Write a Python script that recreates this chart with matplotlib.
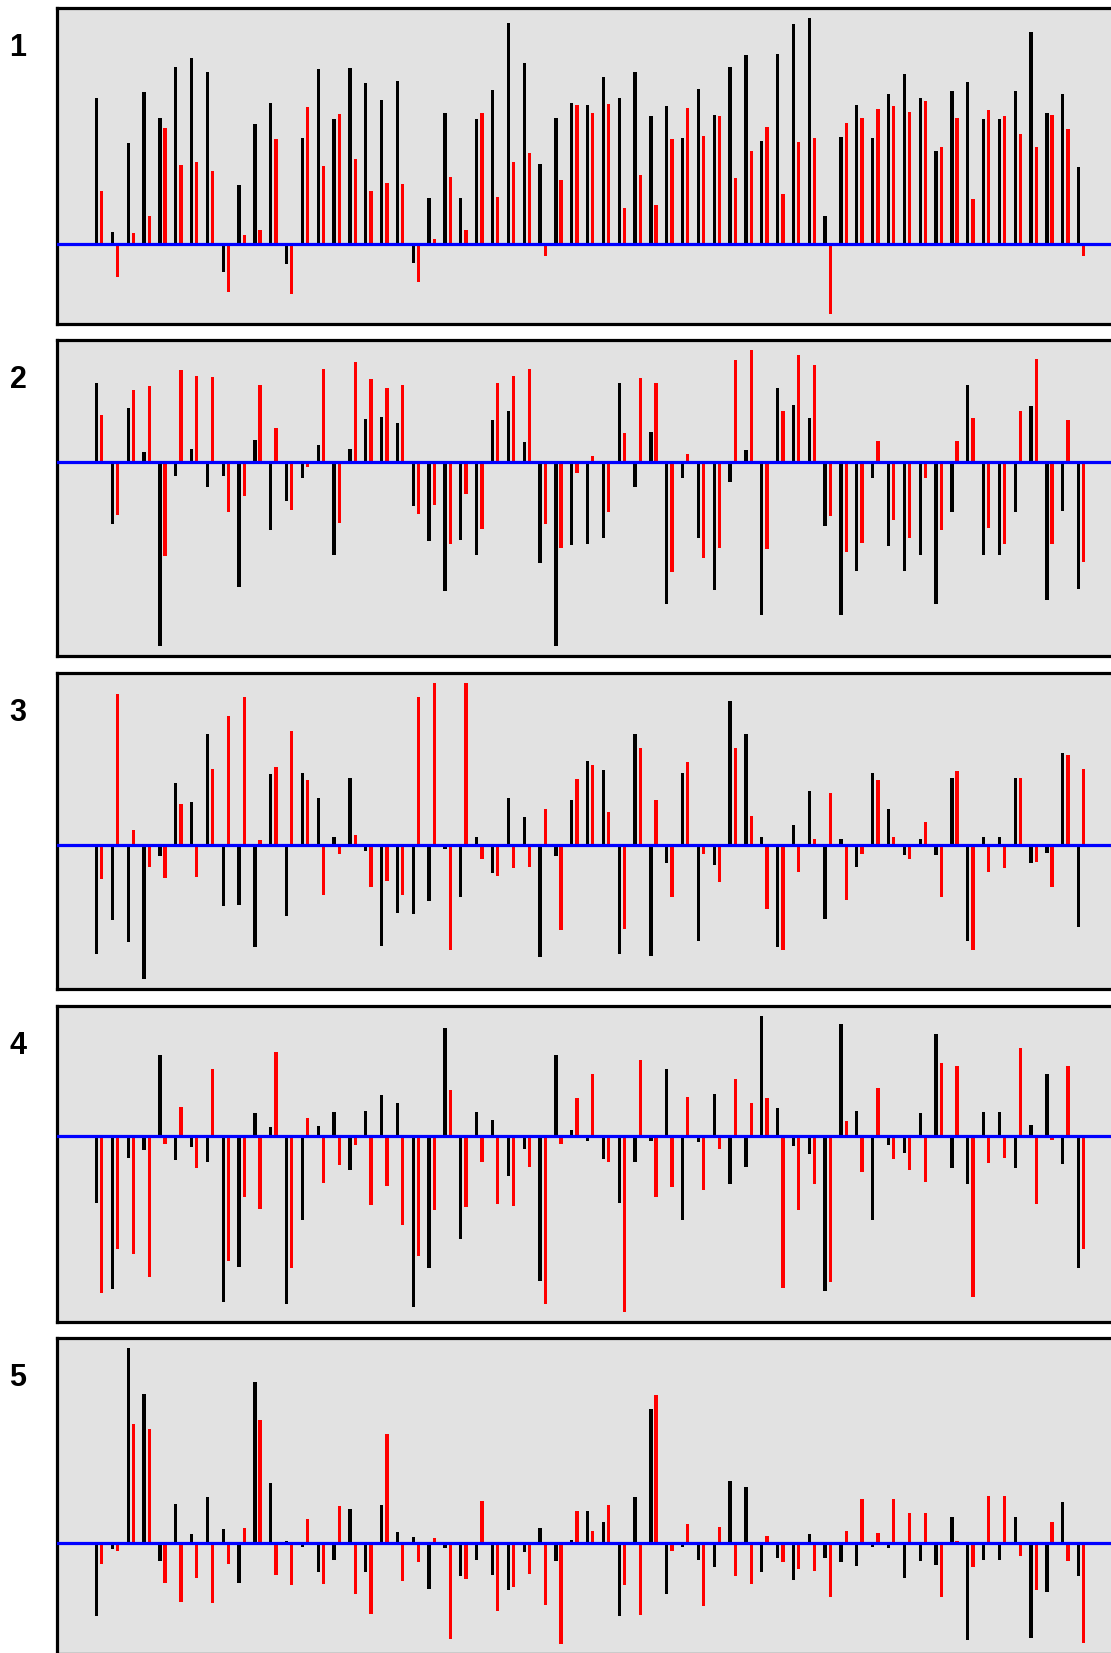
import numpy as np
import matplotlib
matplotlib.use('Agg')
import matplotlib.pyplot as plt

# =============================================================================
# Data: 5 panels, 63 pairs each (black series, red series)
# =============================================================================
black_1 = [440, 37, 302, 456, 379, 533, 560, 518, -85, 176, 360, 425, -60, 318, 525, 375,
           529, 483, 433, 490, -57, 137, 395, 137, 375, 464, 663, 545, 241, 379, 425, 418,
           502, 440, 518, 383, 414, 318, 467, 387, 533, 568, 310, 572, 660, 679, 84, 322,
           418, 318, 452, 510, 440, 279, 460, 487, 375, 375, 460, 637, 395, 452, 230]
red_1   = [160, -100, 34, 84, 348, 237, 245, 218, -145, 26, 41, 314, -150, 413, 233, 391,
           256, 160, 183, 179, -115, 14, 202, 41, 395, 142, 245, 272, -35, 191, 418, 395,
           422, 107, 206, 118, 314, 410, 325, 383, 199, 279, 352, 149, 306, 318, -210, 364,
           379, 406, 414, 398, 429, 291, 379, 134, 402, 383, 329, 291, 387, 345, -35]

black_2 = [235, -186, 162, 28, -554, -44, 39, -75, -44, -378, 66, -206, -117, -48, 51, -282,
           39, 128, 135, 116, -133, -240, -390, -236, -282, 124, 151, 59, -305, -554, -252, -248,
           -229, 235, -75, 89, -428, -48, -229, -386, -60, 35, -462, 220, 170, 131, -194, -462,
           -328, -48, -255, -328, -282, -428, -152, 231, -282, -282, -152, 166, -416, -148, -382]
red_2   = [139, -159, 216, 228, -285, 274, 258, 254, -152, -102, 231, 100, -144, -17, 277, -183,
           300, 247, 220, 231, -156, -129, -248, -98, -202, 235, 258, 277, -186, -259, -33, 16,
           -152, 86, 251, 235, -332, 24, -290, -259, 304, 335, -263, 151, 319, 289, -163, -271,
           -244, 62, -175, -229, -48, -206, 62, 131, -198, -248, 151, 308, -248, 124, -301]

black_3 = [-327, -225, -290, -401, -33, 189, 131, 335, -182, -179, -305, 216, -213, 219, 142, 24,
           204, -18, -301, -202, -206, -167, -10, -156, 24, -83, 142, 85, -336, -33, 135, 254,
           227, -327, 335, -332, -53, 219, -286, -60, 435, 335, 24, -305, 62, 162, -221, 20,
           -64, 219, 108, -29, 20, -29, 204, -286, 24, 24, 204, -53, -22, 277, -244]
red_3   = [-102, 454, 47, -64, -99, 124, -95, 231, 389, 446, 16, 235, 343, 196, -148, -26,
           31, -125, -106, -148, 446, 488, -313, 488, -41, -91, -68, -64, 108, -255, 200, 242,
           100, -252, 292, 135, -156, 250, -26, -110, 292, 89, -190, -313, -79, 20, 158, -163,
           -26, 196, 24, -41, 70, -156, 223, -313, -79, -68, 204, -49, -125, 273, 231]

black_4 = [-199, -459, -64, -41, 245, -72, -33, -76, -498, -393, 69, 27, -505, -251, 31, 73,
           -102, 77, 123, 100, -513, -397, 326, -309, 73, 50, -118, -37, -436, 245, 19, -14,
           -68, -199, -76, -14, 203, -251, -18, 127, -144, -91, 362, 85, -29, -52, -466, 339,
           77, -251, -26, -49, 69, 309, -95, -144, 73, 73, -95, 35, 188, -83, -397]
red_4   = [-471, -340, -355, -424, -22, 88, -95, 203, -375, -183, -217, 253, -397, 54, -141, -87,
           -26, -206, -149, -267, -359, -221, 138, -213, -76, -202, -209, -91, -505, -22, 115, 188,
           -76, -528, 230, -183, -152, 119, -160, -37, 173, 100, 115, -455, -221, -144, -439, 46,
           -106, 146, -68, -102, -137, 222, 211, -482, -79, -64, 265, -202, -10, 211, -340]

black_5 = [-218, -18, 587, 449, -53, 119, 27, 138, 42, -118, 484, 180, 8, -11, -87, -49,
           103, -87, 115, 35, 19, -137, -15, -99, -49, -95, -141, -26, 46, -53, 11, 96,
           65, -218, 138, 403, -153, -11, -49, -72, 188, 169, -87, -45, -111, 27, -45, -57,
           -68, -11, -15, -103, -53, -64, 80, -291, -49, -49, 80, -283, -145, 123, -99]
red_5   = [-61, -22, 360, 345, -118, -176, -103, -180, -61, 46, 372, -95, -126, 73, -122, 111,
           -153, -211, 330, -114, -57, 15, -287, -107, 126, -203, -130, -91, -184, -303, 96, 38,
           115, -126, -214, 445, -22, 58, -187, 50, -99, -122, 23, -57, -76, -84, -160, 38,
           134, 31, 134, 92, 92, -160, 8, -72, 142, 142, -38, -141, 65, -53, -299]

panels = [(black_1, red_1), (black_2, red_2), (black_3, red_3),
          (black_4, red_4), (black_5, red_5)]
labels = ['1', '2', '3', '4', '5']

# y limits per panel (same units as the bars)
ylims = [(-240, 708), (-583, 364), (-430, 517), (-557, 391), (-331, 616)]

# =============================================================================
# Layout (pixel based)
# =============================================================================
W, H = 1111, 1653
fig = plt.figure(figsize=(W / 100, H / 100), dpi=100)
fig.patch.set_facecolor('white')

tops = [8.4, 340.4, 673.3, 1006.3, 1338.3]
ph = 315.3
left_px, right_px = 57, 1125
px_per_unit = 15.84
x0_px = 96.5

for k, (blk, red) in enumerate(panels):
    top = tops[k]
    ax = fig.add_axes([left_px / W, 1 - (top + ph) / H,
                       (right_px - left_px) / W, ph / H])
    ax.set_facecolor('#e2e2e2')
    x = np.arange(len(blk))
    ax.bar(x, blk, width=0.21, color='black', zorder=2)
    ax.bar(x + 0.33, red, width=0.21, color='#ff0000', zorder=2)
    ax.axhline(0, color='#0000ff', lw=2.3, zorder=3)

    ax.set_xlim((left_px - x0_px) / px_per_unit, (right_px - x0_px) / px_per_unit)
    ax.set_ylim(*ylims[k])
    ax.set_xticks([])
    ax.set_yticks([])
    for s in ax.spines.values():
        s.set_linewidth(2.3)
        s.set_color('black')

    fig.text(18 / W, 1 - (top + 40) / H, labels[k], fontsize=22,
             fontweight='bold', family='Liberation Sans',
             ha='center', va='center')

fig.savefig('out.png', dpi=100)
